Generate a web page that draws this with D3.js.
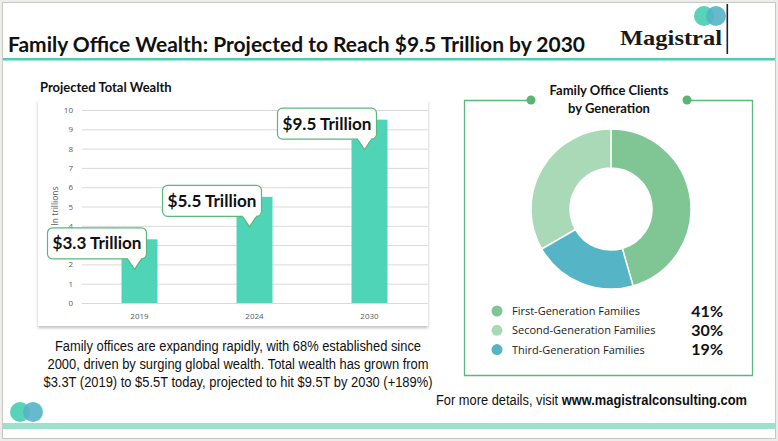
<!DOCTYPE html>
<html><head><meta charset="utf-8">
<script src="https://cdn.jsdelivr.net/npm/d3@7"></script>
<style>
html,body{margin:0;padding:0;background:#ecedea;}
svg{display:block;}
</style></head>
<body>
<svg id="c" width="778" height="441"></svg>
<script>
// ---- data ----
const years = ["2019", "2024", "2030"];
const wealth = [3.3, 5.5, 9.5];
const wealthLabels = ["$3.3 Trillion", "$5.5 Trillion", "$9.5 Trillion"];
const yTicks = [0,1,2,3,4,5,6,7,8,9,10];
const genLabels = ["First-Generation Families", "Second-Generation Families", "Third-Generation Families"];
const genShares = [41, 30, 19];
const genColors = ["#80c695", "#a9d9b6", "#55b5c6"];
const pieOrder = [0, 2, 1]; // drawing order clockwise from top
const titleText = "Family Office Wealth: Projected to Reach $9.5 Trillion by 2030";
const paraLines = [
  "Family offices are expanding rapidly, with 68% established since",
  "2000, driven by surging global wealth. Total wealth has grown from",
  "$3.3T (2019) to $5.5T today, projected to hit $9.5T by 2030 (+189%)"
];
const paraWidths = [366, 381, 389];

const svg = d3.select("#c");

// card
svg.append("rect").attr("x",2.5).attr("y",2.5).attr("width",773).attr("height",436)
  .attr("fill","#fff").attr("stroke","#c9c9c4").attr("stroke-width",1);

// title
svg.append("text").attr("x",8).attr("y",52).text(titleText)
  .attr("font-family","Lato, 'Open Sans', sans-serif").attr("font-weight",700)
  .attr("font-size",21).attr("fill","#111")
  .attr("textLength",577).attr("lengthAdjust","spacingAndGlyphs");
svg.append("rect").attr("x",3).attr("y",58).attr("width",772).attr("height",2.5).attr("fill","#4ecdb0");

// logo top
svg.append("circle").attr("cx",704).attr("cy",16).attr("r",10).attr("fill","#4fd1b4").attr("opacity",0.95);
svg.append("circle").attr("cx",716).attr("cy",16).attr("r",10).attr("fill","#55b3c7").attr("opacity",0.9);
svg.append("text").attr("x",722).attr("y",45).attr("text-anchor","end").text("Magistral")
  .attr("font-family","'Liberation Serif', 'DejaVu Serif', serif").attr("font-weight",700)
  .attr("font-size",22).attr("fill","#1a1a1a").attr("textLength",102).attr("lengthAdjust","spacingAndGlyphs");
svg.append("rect").attr("x",726.5).attr("y",4).attr("width",1.6).attr("height",50).attr("fill","#222");

// ---- bar chart ----
svg.append("text").attr("x",40).attr("y",92).text("Projected Total Wealth")
  .attr("font-family","Lato, sans-serif").attr("font-weight",700).attr("font-size",13).attr("fill","#111");

const defs = svg.append("defs");
const f = defs.append("filter").attr("id","sh").attr("x","-5%").attr("y","-5%").attr("width","110%").attr("height","115%");
f.append("feDropShadow").attr("dx",0).attr("dy",2).attr("stdDeviation",1.5).attr("flood-color","#000").attr("flood-opacity",0.25);
svg.append("rect").attr("x",38).attr("y",100).attr("width",390).attr("height",226)
  .attr("fill","#fff").attr("filter","url(#sh)");

const y = d3.scaleLinear().domain([0,10]).range([303,110]);
const x = d3.scaleBand().domain(years).range([82,427]).paddingInner(0.687).paddingOuter(0.3435);

const yAxis = svg.append("g").attr("transform","translate(82,0)")
  .call(d3.axisLeft(y).tickValues(yTicks).tickSize(-346).tickPadding(9).tickFormat(d3.format("d")));
yAxis.select(".domain").remove();
yAxis.selectAll(".tick line").attr("stroke","#d9d9d9").attr("stroke-width",1);
yAxis.selectAll(".tick text").attr("font-family","'Open Sans', sans-serif").attr("font-size",8).attr("fill","#595959");

svg.append("text").attr("transform","translate(58,206) rotate(-90)").attr("text-anchor","middle")
  .text("In trillions").attr("font-family","'Open Sans', sans-serif").attr("font-size",8.5).attr("fill","#595959");

svg.selectAll("rect.bar").data(wealth).join("rect").attr("class","bar")
  .attr("x",(d,i)=>x(years[i])).attr("width",x.bandwidth())
  .attr("y",d=>y(d)).attr("height",d=>y(0)-y(d)).attr("fill","#50d4b8");

const xAxis = svg.append("g").attr("transform","translate(0,303)")
  .call(d3.axisBottom(x).tickSize(0).tickPadding(10));
xAxis.select(".domain").remove();
xAxis.selectAll(".tick text").attr("font-family","'Open Sans', sans-serif").attr("font-size",8).attr("fill","#595959");

// callouts
const co = svg.selectAll("g.co").data(wealth).join("g").attr("class","co")
  .attr("transform",(d,i)=>`translate(${x(years[i])+x.bandwidth()/2},${y(d)+4})`);
co.append("rect").attr("x",-92).attr("y",-15.5).attr("width",99).attr("height",31).attr("rx",5)
  .attr("fill","#fff").attr("stroke","#5cb87a").attr("stroke-width",1.2);
co.append("path").attr("d","M-12,15.5 L-5,26 L2,15.5").attr("fill","#fff").attr("stroke","#5cb87a").attr("stroke-width",1.2);
co.append("rect").attr("x",-11.3).attr("y",14).attr("width",12.6).attr("height",2.2).attr("fill","#fff");
co.append("text").attr("x",-42.5).attr("y",6).attr("text-anchor","middle").text((d,i)=>wealthLabels[i])
  .attr("font-family","Lato, sans-serif").attr("font-weight",700).attr("font-size",17).attr("fill","#111")
  .attr("textLength",89).attr("lengthAdjust","spacingAndGlyphs");

// paragraph
svg.selectAll("text.para").data(paraLines).join("text").attr("class","para")
  .attr("x",238).attr("y",(d,i)=>351+i*18).attr("text-anchor","middle").text(d=>d)
  .attr("font-family","'Liberation Sans', Arial, sans-serif")
  .attr("font-size",14).attr("fill","#111")
  .attr("textLength",(d,i)=>paraWidths[i]).attr("lengthAdjust","spacingAndGlyphs");

// ---- donut panel ----
const panel = svg.append("g");
panel.append("path").attr("d","M531,100.5 H464.5 V375.5 H752.5 V100.5 H687")
  .attr("fill","none").attr("stroke","#5cb87a").attr("stroke-width",1.3);
panel.append("circle").attr("cx",531).attr("cy",100).attr("r",4.5).attr("fill","#5bb474");
panel.append("circle").attr("cx",687).attr("cy",100).attr("r",4.5).attr("fill","#5bb474");
panel.append("text").attr("x",609).attr("y",95).attr("text-anchor","middle").text("Family Office Clients")
  .attr("font-family","Lato, sans-serif").attr("font-weight",700).attr("font-size",13).attr("fill","#111");
panel.append("text").attr("x",609).attr("y",113).attr("text-anchor","middle").text("by Generation")
  .attr("font-family","Lato, sans-serif").attr("font-weight",700).attr("font-size",13).attr("fill","#111");

const pie = d3.pie().sort((a,b)=>pieOrder.indexOf(a.i)-pieOrder.indexOf(b.i)).value(d=>d.v);
const arcs = pie(genShares.map((v,i)=>({v,i})));
const arc = d3.arc().innerRadius(41).outerRadius(80);
panel.append("g").attr("transform","translate(611,209)")
  .selectAll("path").data(arcs).join("path").attr("d",arc)
  .attr("fill",d=>genColors[d.data.i]).attr("stroke","#fff").attr("stroke-width",1.5);

const lg = panel.selectAll("g.lg").data(genLabels).join("g").attr("class","lg")
  .attr("transform",(d,i)=>`translate(0,${311+i*19.3})`);
lg.append("circle").attr("cx",497).attr("cy",0).attr("r",5.5).attr("fill",(d,i)=>genColors[i]);
lg.append("text").attr("x",512).attr("y",4).text(d=>d)
  .attr("font-family","'Open Sans', sans-serif").attr("font-size",11).attr("fill","#222");
lg.append("text").attr("x",723).attr("y",5.5).attr("text-anchor","end").text((d,i)=>genShares[i]+"%")
  .attr("font-family","Lato, sans-serif").attr("font-weight",700).attr("font-size",16).attr("fill","#111");

// footer
svg.append("text").attr("x",747).attr("y",405).attr("text-anchor","end")
  .attr("font-family","'Liberation Sans', Arial, sans-serif").attr("font-size",14).attr("fill","#111")
  .attr("textLength",311).attr("lengthAdjust","spacingAndGlyphs")
  .call(t=>{t.append("tspan").text("For more details, visit ");
            t.append("tspan").attr("font-weight",700).text("www.magistralconsulting.com");});
svg.append("circle").attr("cx",20).attr("cy",412).attr("r",10).attr("fill","#4fd1b4").attr("opacity",0.95);
svg.append("circle").attr("cx",33).attr("cy",412).attr("r",10).attr("fill","#55b3c7").attr("opacity",0.9);
svg.append("rect").attr("x",3).attr("y",423).attr("width",772).attr("height",6).attr("fill","#9de1cc");
</script>
</body></html>
